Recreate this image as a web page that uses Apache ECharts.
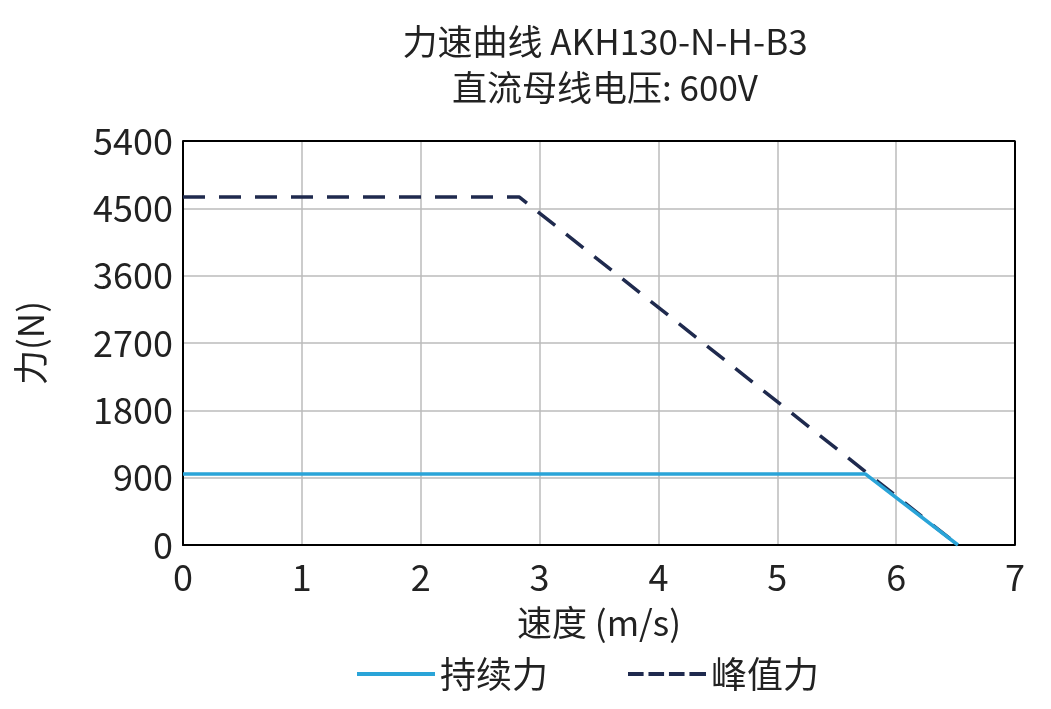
<!DOCTYPE html>
<html>
<head>
<meta charset="utf-8">
<script src="https://cdn.jsdelivr.net/npm/echarts@6/dist/echarts.min.js"></script>
<style>html,body{margin:0;padding:0;background:#fff}#chart{width:1051px;height:709px}</style>
</head>
<body>
<div id="chart"></div>
<script>
// 力速曲线数据
const titleText = '力速曲线 AKH130-N-H-B3\n直流母线电压: 600V'
const continuousData = [[0, 950], [5.74, 950], [6.52, 0]]
const peakData = [[0, 4650], [2.83, 4650], [6.52, 0]]
const seriesNames = ['持续力', '峰值力']

const font = 'Noto Sans CJK SC'
const chart = echarts.init(document.getElementById('chart'))
chart.setOption({
    textStyle: { fontFamily: font },
    title: {
        text: titleText, left: 600, top: 14, textAlign: 'center',
        textStyle: { fontFamily: font, fontSize: 35, fontWeight: 'normal', color: '#222', lineHeight: 46 }
    },
    grid: { left: 183, right: 36, top: 141, bottom: 164 },
    xAxis: {
        type: 'value', min: 0, max: 7, interval: 1,
        name: '速度 (m/s)', nameLocation: 'middle', nameGap: 60,
        nameTextStyle: { fontFamily: font, fontSize: 35, color: '#222' },
        axisLine: { lineStyle: { color: '#000', width: 2 } },
        axisTick: { show: false },
        axisLabel: { fontSize: 36, color: '#222', margin: 14 },
        splitLine: { lineStyle: { color: '#bbb', width: 1.5 } }
    },
    yAxis: {
        type: 'value', min: 0, max: 5400, interval: 900,
        name: '力(N)', nameLocation: 'middle', nameGap: 135, nameRotate: 90,
        nameTextStyle: { fontFamily: font, fontSize: 35, color: '#222' },
        axisLine: { show: true, lineStyle: { color: '#000', width: 2 } },
        axisTick: { show: false },
        axisLabel: { fontSize: 36, color: '#222', margin: 10, formatter: v => String(v) },
        splitLine: { lineStyle: { color: '#bbb', width: 1.5 } }
    },
    legend: {
        bottom: 12, left: 352, itemGap: 80, itemWidth: 78, itemHeight: 4,
        textStyle: { fontFamily: font, fontSize: 36, color: '#222' },
        data: [
            { name: seriesNames[0], icon: 'rect' },
            { name: seriesNames[1], icon: 'path://M0,0H16V4H0ZM21,0H37V4H21ZM42,0H58V4H42ZM63,0H80V4H63Z' }
        ]
    },
    series: [
        {
            name: seriesNames[1], type: 'line', data: peakData, symbol: 'none', z: 2,
            itemStyle: { color: '#1f2a4e' },
            lineStyle: { color: '#1f2a4e', width: 3.5, type: [22, 14] }
        },
        {
            name: seriesNames[0], type: 'line', data: continuousData, symbol: 'none', z: 3,
            itemStyle: { color: '#2aa4d8' },
            lineStyle: { color: '#2aa4d8', width: 3.5 }
        },
        {
            // 外框
            type: 'line', data: [[7, 0], [7, 5400], [0, 5400]], symbol: 'none', silent: true,
            lineStyle: { color: '#000', width: 2 }
        }
    ]
})
</script>
</body>
</html>
